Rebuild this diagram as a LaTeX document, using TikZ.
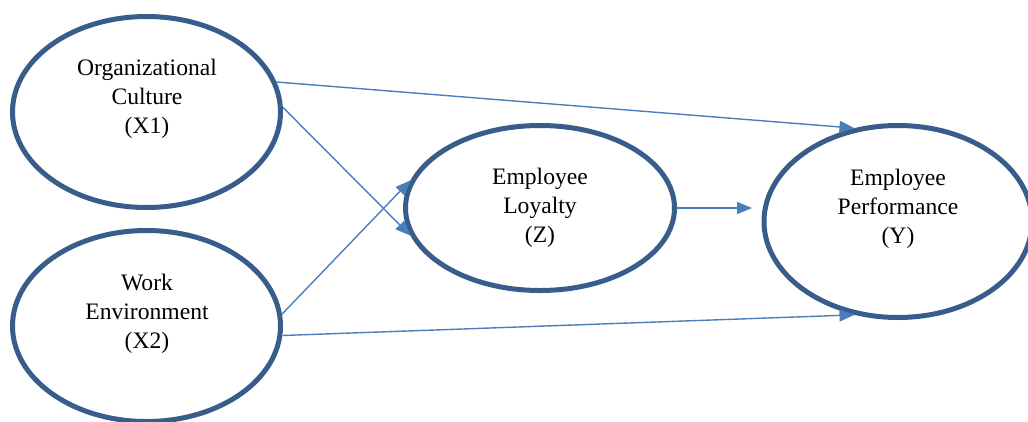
\documentclass[tikz,border=0pt]{standalone}
\usepackage{fontspec}
\setmainfont{Liberation Serif}
\usetikzlibrary{shapes.geometric,arrows.meta}
\definecolor{ringblue}{HTML}{385D8A}
\definecolor{arrowblue}{HTML}{4A7EBB}
\tikzset{
  construct/.style={ellipse, draw=ringblue, line width=5pt, fill=white, inner sep=0pt},
  caption/.style={align=center, font=\fontsize{23.6}{29}\selectfont, inner sep=0pt},
  link/.style={draw=arrowblue, line width=1.4pt, -{Triangle[length=15pt,width=12pt]}}
}
\begin{document}
\begin{tikzpicture}[x=1pt,y=-1pt]
\useasboundingbox (0,0) rectangle (1028,421);
\node[construct, minimum width=268pt, minimum height=191pt] (X1) at (146.5,112) {};
\node[construct, minimum width=268pt, minimum height=191pt] (X2) at (146.5,326) {};
\node[construct, minimum width=269pt, minimum height=165pt] (Z) at (540,208) {};
\node[construct, minimum width=268pt, minimum height=192pt] (Y) at (898,221.5) {};
\node[caption] (tX1) at (147,99) {Organizational\\Culture\\(X1)};
\node[caption] (tX2) at (147,314) {Work\\Environment\\(X2)};
\node[caption] (tZ) at (540,208) {Employee\\Loyalty\\(Z)};
\node[caption] (tY) at (898,209) {Employee\\Performance\\(Y)};
\draw[link] (X1.13) -- (Y.115);
\draw[link] (X1.2) -- (Z.192);
\draw[link] (X2.5) -- (Z.168);
\draw[link] (X2.-4) -- (Y.245);
\draw[link, shorten >=9.5pt] (Z.east) -- (Z.east -| Y.west);
\end{tikzpicture}
\end{document}
